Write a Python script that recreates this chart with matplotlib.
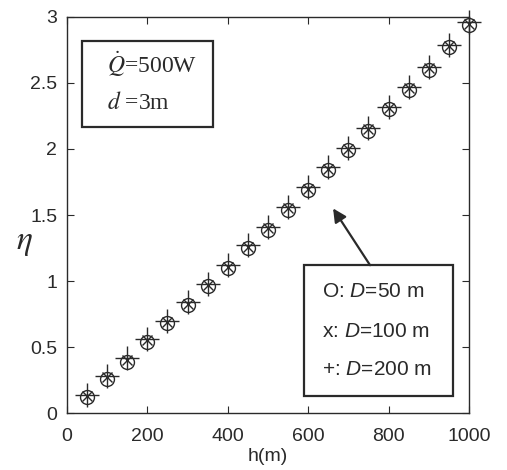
import matplotlib.pyplot as plt
from matplotlib.patches import Rectangle

h = [50, 100, 150, 200, 250, 300, 350, 400, 450, 500,
     550, 600, 650, 700, 750, 800, 850, 900, 950, 1000]
eta_50 = [0.12, 0.26, 0.39, 0.54, 0.68, 0.82, 0.96, 1.10, 1.25, 1.39,
          1.54, 1.69, 1.84, 1.99, 2.14, 2.30, 2.45, 2.60, 2.77, 2.94]
eta_100 = [0.13, 0.27, 0.40, 0.55, 0.69, 0.83, 0.97, 1.11, 1.26, 1.40,
           1.55, 1.70, 1.85, 2.00, 2.15, 2.31, 2.46, 2.61, 2.78, 2.95]
eta_200 = [0.14, 0.28, 0.42, 0.56, 0.70, 0.84, 0.98, 1.12, 1.27, 1.41,
           1.56, 1.71, 1.86, 2.01, 2.16, 2.32, 2.47, 2.62, 2.79, 2.96]

plt.rcParams['font.family'] = ['Liberation Sans', 'DejaVu Sans']
plt.rcParams['mathtext.fontset'] = 'custom'
plt.rcParams['mathtext.it'] = 'Liberation Sans:italic'
plt.rcParams['mathtext.rm'] = 'Liberation Sans'

fig = plt.figure(figsize=(5.07, 4.7), dpi=100)
fig.patch.set_facecolor('white')
ax = fig.add_axes([0.132, 0.121, 0.793, 0.843])

ink = '#2a2a2a'
ax.plot(h, eta_50, 'o', mfc='none', mec=ink, markersize=10, mew=1.0, clip_on=False)
ax.plot(h, eta_100, 'x', color=ink, markersize=7, mew=1.0, clip_on=False)
ax.plot(h, eta_200, '+', color=ink, markersize=17, mew=1.0, clip_on=False)

ax.set_xlim(0, 1000)
ax.set_ylim(0, 3)
ax.set_xticks([0, 200, 400, 600, 800, 1000])
ax.set_yticks([0, 0.5, 1, 1.5, 2, 2.5, 3])
ax.set_yticklabels(['0', '0.5', '1', '1.5', '2', '2.5', '3'])
ax.tick_params(direction='in', top=True, right=True, labelsize=14, colors=ink,
               length=5)
ax.tick_params(axis='x', pad=11)
ax.tick_params(axis='y', pad=7)
for s in ax.spines.values():
    s.set_color(ink)
    s.set_linewidth(1.0)

ax.set_xlabel('h(m)', fontsize=14, color=ink, labelpad=2)
ax.text(-0.105, 0.43, r'$\eta$', transform=ax.transAxes, fontsize=24, color=ink,
        ha='center', va='center', math_fontfamily='stix')

# parameter box (top left)
ax.add_patch(Rectangle((0.037, 0.722), 0.326, 0.217, transform=ax.transAxes,
                       fc='white', ec=ink, lw=1.6, zorder=3))
ax.text(0.1, 0.879, r'$\dot{Q}$=500W', transform=ax.transAxes, fontsize=17,
        family='Liberation Serif', color=ink, va='center', ha='left', zorder=4,
        math_fontfamily='stix')
ax.text(0.1, 0.783, r'$d$ =3m', transform=ax.transAxes, fontsize=17,
        family='Liberation Serif', color=ink, va='center', ha='left', zorder=4,
        math_fontfamily='stix')

# legend box (bottom right)
ax.add_patch(Rectangle((0.59, 0.043), 0.371, 0.331, transform=ax.transAxes,
                       fc='white', ec=ink, lw=1.6, zorder=3))
for ypos, txt in [(0.306, 'O: $D$=50 m'), (0.205, 'x: $D$=100 m'),
                  (0.109, '+: $D$=200 m')]:
    ax.text(0.634, ypos, txt, transform=ax.transAxes, fontsize=15, color=ink,
            va='center', ha='left', zorder=4)

ax.annotate('', xy=(662, 1.55), xytext=(754, 1.12),
            arrowprops=dict(arrowstyle='-|>', color=ink, lw=1.6, mutation_scale=20,
                            shrinkA=0, shrinkB=0))

fig.savefig('out.png', dpi=100)
